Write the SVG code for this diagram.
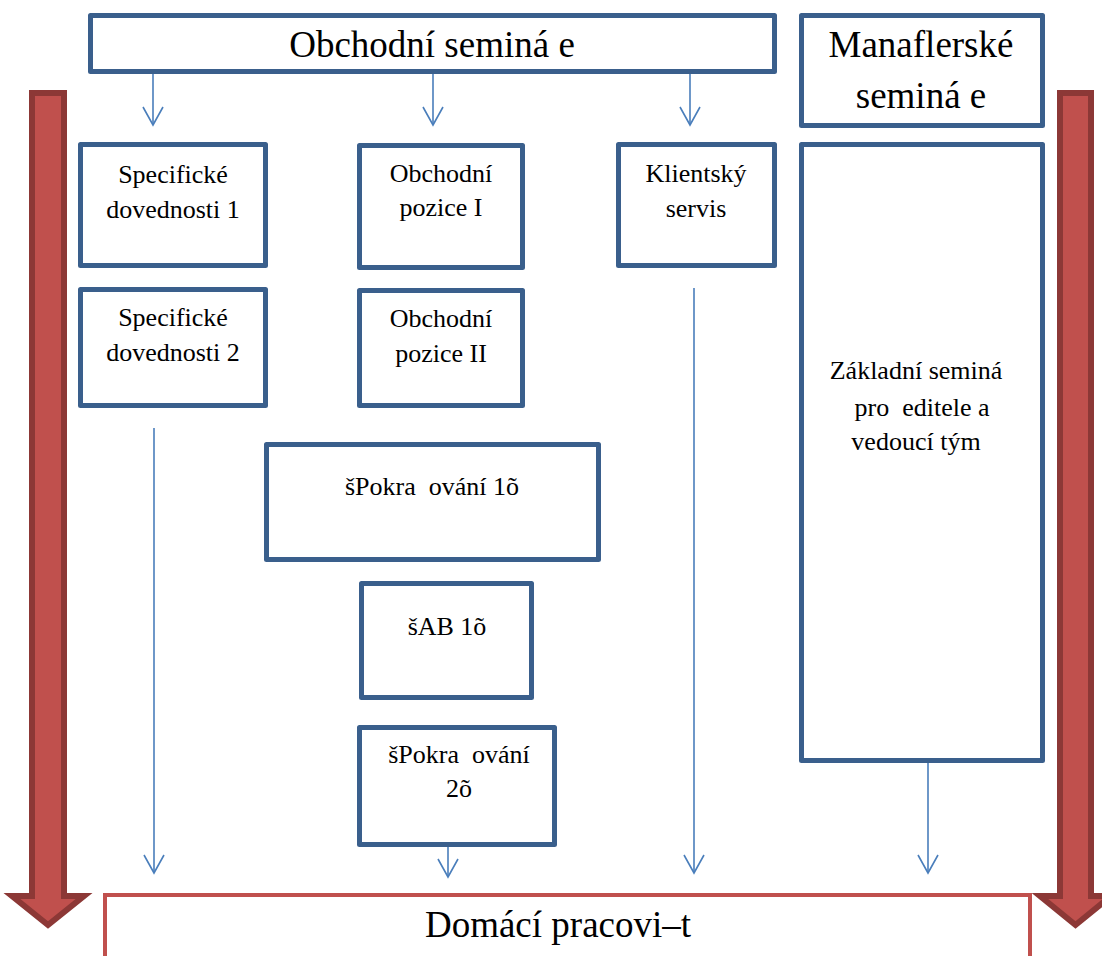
<svg xmlns="http://www.w3.org/2000/svg" width="1102" height="956" viewBox="0 0 1102 956">
  <style>
    .box { fill: #ffffff; stroke: #3A5F8C; stroke-width: 5; stroke-linejoin: round; }
    .home { fill: #ffffff; stroke: #C0504D; stroke-width: 4; }
    .big-arrow { fill: #C0504D; stroke: #8C3836; stroke-width: 6; stroke-linejoin: miter; }
    .link { fill: none; stroke: #4A7EBB; stroke-width: 1.6; marker-end: url(#open-head); }
    text { font-family: "Liberation Serif", "Times New Roman", serif; fill: #000000; text-anchor: middle; white-space: pre; }
    .lg { font-size: 37px; }
    .sm { font-size: 26px; }
  </style>
  <defs>
    <marker id="open-head" viewBox="-20 -12 22 24" refX="0" refY="0" markerWidth="22" markerHeight="24" markerUnits="userSpaceOnUse" orient="auto">
      <path d="M-18,-10 L0,0 L-18,10" fill="none" stroke="#4A7EBB" stroke-width="1.6"/>
    </marker>
  </defs>

  <!-- flow arrows at both sides -->
  <g id="flow-left">
    <path class="big-arrow" d="M32,93 L64,93 L64,896 L84,896 L48,925 L12,896 L32,896 Z"/>
  </g>
  <g id="flow-right">
    <path class="big-arrow" d="M1060,93 L1091,93 L1091,896 L1111,896 L1075.5,925 L1040,896 L1060,896 Z"/>
  </g>

  <!-- connectors -->
  <g id="connectors">
    <line class="link" x1="153" y1="74" x2="153" y2="125"/>
    <line class="link" x1="433" y1="74" x2="433" y2="125"/>
    <line class="link" x1="690" y1="74" x2="690" y2="125"/>
    <line class="link" x1="154" y1="428" x2="154" y2="873"/>
    <line class="link" x1="694" y1="288" x2="694" y2="873"/>
    <line class="link" x1="448" y1="847" x2="448" y2="877"/>
    <line class="link" x1="928" y1="763" x2="928" y2="873"/>
  </g>

  <g id="obchodni-seminare">
    <rect class="box" x="90.5" y="15.5" width="684" height="56"/>
    <text class="lg" x="432" y="57">Obchodní seminá e</text>
  </g>

  <g id="manazerske-seminare">
    <rect class="box" x="801.5" y="15.5" width="241" height="110"/>
    <text class="lg" x="921" y="57">Manaflerské</text>
    <text class="lg" x="921" y="108">seminá e</text>
  </g>

  <g id="specificke-1">
    <rect class="box" x="80.5" y="144.5" width="185" height="121"/>
    <text class="sm" x="173" y="183">Specifické</text>
    <text class="sm" x="173" y="218">dovednosti 1</text>
  </g>

  <g id="specificke-2">
    <rect class="box" x="80.5" y="289.5" width="185" height="116"/>
    <text class="sm" x="173" y="326">Specifické</text>
    <text class="sm" x="173" y="361">dovednosti 2</text>
  </g>

  <g id="obchodni-pozice-1">
    <rect class="box" x="359.5" y="145.5" width="163" height="122"/>
    <text class="sm" x="441" y="182">Obchodní</text>
    <text class="sm" x="441" y="216">pozice I</text>
  </g>

  <g id="obchodni-pozice-2">
    <rect class="box" x="359.5" y="290.5" width="163" height="115"/>
    <text class="sm" x="441" y="327">Obchodní</text>
    <text class="sm" x="441" y="362">pozice II</text>
  </g>

  <g id="klientsky-servis">
    <rect class="box" x="618.5" y="144.5" width="156" height="121"/>
    <text class="sm" x="696" y="182">Klientský</text>
    <text class="sm" x="696" y="217">servis</text>
  </g>

  <g id="zakladni-seminar">
    <rect class="box" x="801.5" y="144.5" width="241" height="616"/>
    <text class="sm" x="916" y="379">Základní seminá</text>
    <text class="sm" x="922" y="416">pro  editele a</text>
    <text class="sm" x="916" y="450">vedoucí tým</text>
  </g>

  <g id="pokracovani-1">
    <rect class="box" x="266.5" y="444.5" width="332" height="115"/>
    <text class="sm" x="432" y="495">šPokra  ování 1õ</text>
  </g>

  <g id="ab-1">
    <rect class="box" x="361.5" y="583.5" width="170" height="114"/>
    <text class="sm" x="447" y="635">šAB 1õ</text>
  </g>

  <g id="pokracovani-2">
    <rect class="box" x="359.5" y="727.5" width="195" height="117"/>
    <text class="sm" x="459" y="763">šPokra  ování</text>
    <text class="sm" x="459" y="797">2õ</text>
  </g>

  <g id="domaci-pracoviste">
    <rect class="home" x="105" y="895" width="925" height="80"/>
    <text class="lg" x="558" y="937">Domácí pracovi–t</text>
  </g>
</svg>
